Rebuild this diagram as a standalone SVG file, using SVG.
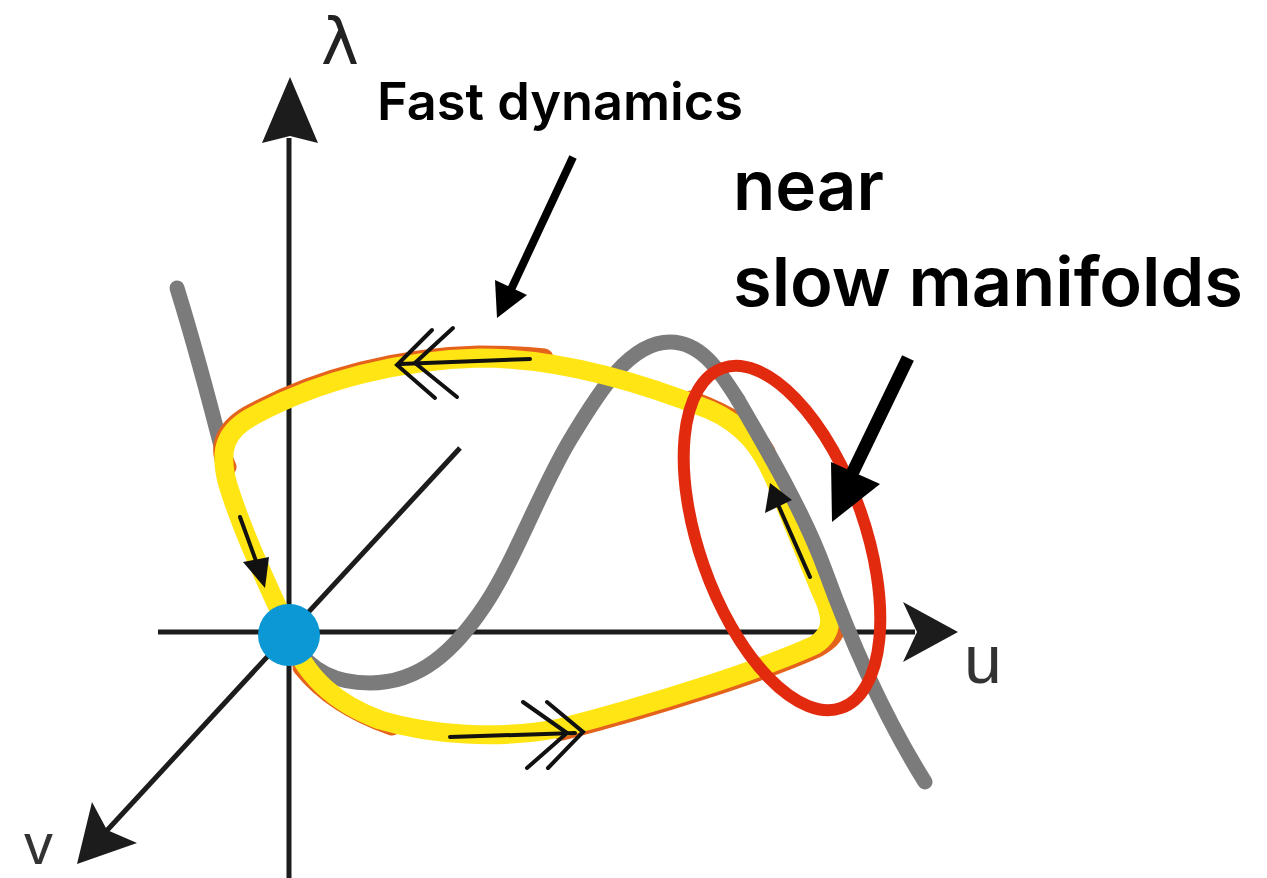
<svg xmlns="http://www.w3.org/2000/svg" width="1267" height="878" viewBox="0 0 1267 878">
  <style>
    .axis { stroke: #1c1c1c; stroke-width: 5; fill: none; }
    .head { fill: #1c1c1c; }
    .gray { stroke: #7b7b7b; stroke-width: 15; fill: none; stroke-linecap: round; stroke-linejoin: round; }
    .orange { stroke: #e5621c; stroke-width: 19; fill: none; stroke-linecap: round; }
    .yellow { stroke: #ffe514; stroke-width: 19; fill: none; stroke-linejoin: round; }
    .flow { stroke: #111; stroke-width: 4; fill: none; stroke-linecap: round; stroke-linejoin: miter; }
    .flowhead { fill: #111; }
    .lbl { font-family: "Liberation Sans", Arial, sans-serif; fill: #333; }
    .ann { font-family: Inter, "Noto Sans", sans-serif; font-weight: 600; fill: #000; }
  </style>
  <rect width="1267" height="878" fill="#fff"/>

  <g id="axes">
    <line class="axis" x1="289" y1="878" x2="289" y2="138"/>
    <polygon class="head" points="290,77 318,143 290,136 262,143"/>
    <line class="axis" x1="158" y1="632" x2="915" y2="632"/>
    <polygon class="head" points="958,632 903,602 917,632 903,662"/>
    <line class="axis" x1="460" y1="448" x2="100" y2="838"/>
    <polygon class="head" points="77,864 92,802 107,830 137,843"/>
  </g>

  <g id="slow-manifold">
    <path class="gray" d="M177,288 C190,330 208,395 224,458"/>
    <path class="gray" d="M295,645 C310,670 335,683 370,683 C420,683 455,650 485,605 C515,560 540,490 570,440 C600,390 630,342 670,342 C700,342 718,368 738,400"/>
  </g>

  <g id="orbit">
    <path class="orange" transform="translate(-1,-3)" d="M228,470 C218,450 225,430 255,415 C320,380 400,360 480,358 C510,358 530,359 545,361"/>
    <path class="orange" transform="translate(1,-3)" d="M690,403 C730,418 752,432 765,455"/>
    <path class="orange" transform="translate(2,3)" d="M560,728 C650,705 760,670 815,645 C832,636 838,625 833,610"/>
    <path class="orange" transform="translate(2,2)" d="M300,665 C320,690 350,710 390,724"/>
    <path class="yellow" d="M289,632 C275,600 245,540 228,485 C218,450 225,430 255,415 C320,380 400,360 480,358 C560,358 640,382 710,410 C745,425 762,450 775,480 L821,592 C832,615 835,632 815,645 C760,670 650,705 560,728 C500,740 430,735 380,720 C340,705 305,680 289,632 Z"/>
  </g>

  <g id="slow-manifold-front">
    <path class="gray" d="M738,400 C770,455 805,515 825,570 C845,625 880,710 925,782"/>
  </g>

  <g id="equilibrium">
    <circle cx="289" cy="635" r="31" fill="#0b98d4"/>
  </g>

  <g id="flow-arrows">
    <line class="flow" x1="240" y1="517" x2="260" y2="572"/>
    <polygon class="flowhead" points="265,588 243,562 269,557"/>
    <line class="flow" x1="810" y1="577" x2="776" y2="500"/>
    <polygon class="flowhead" points="770,483 765,513 792,500"/>
    <line class="flow" x1="530" y1="359" x2="400" y2="364"/>
    <polyline class="flow" points="432,330 397,365 435,398"/>
    <polyline class="flow" points="453,328 415,363 457,397"/>
    <line class="flow" x1="450" y1="737" x2="575" y2="733"/>
    <polyline class="flow" points="523,702 567,733 527,768"/>
    <polyline class="flow" points="547,702 583,732 548,768"/>
  </g>

  <g id="slow-region">
    <ellipse cx="782" cy="538" rx="180" ry="83" transform="rotate(70.75 782 538)" fill="none" stroke="#e12a0e" stroke-width="12"/>
  </g>

  <g id="labels">
    <text x="321" y="64" font-family="DejaVu Sans, sans-serif" font-size="64" fill="#222">λ</text>
    <text class="lbl" x="964" y="683" font-size="68">u</text>
    <text class="lbl" x="24" y="864" font-size="58">v</text>
    <text class="ann" x="377" y="120" font-size="52" textLength="366" lengthAdjust="spacingAndGlyphs">Fast dynamics</text>
    <text class="ann" x="733" y="210" font-size="68" textLength="151" lengthAdjust="spacingAndGlyphs">near</text>
    <text class="ann" x="733" y="306" font-size="68" textLength="510" lengthAdjust="spacingAndGlyphs">slow manifolds</text>
  </g>

  <g id="connectors">
    <line x1="573" y1="157" x2="508" y2="296" stroke="#000" stroke-width="8"/>
    <polygon points="497,318 495,280 527,295" fill="#000"/>
    <line x1="908" y1="358" x2="848" y2="482" stroke="#000" stroke-width="13"/>
    <polygon points="832,522 831,462 880,484" fill="#000"/>
  </g>
</svg>
